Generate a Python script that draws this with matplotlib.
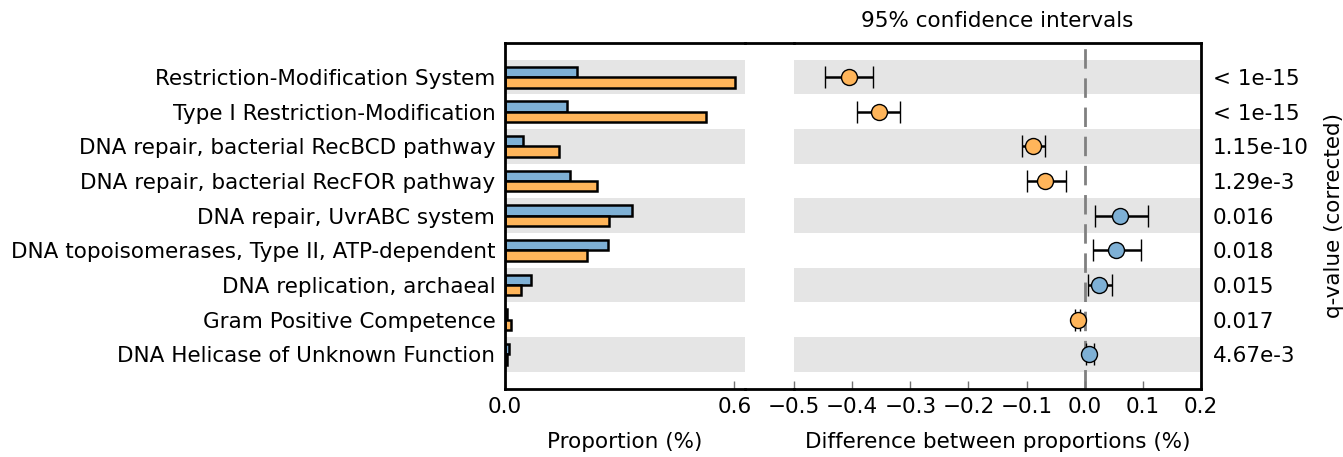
import matplotlib
matplotlib.use("Agg")
import matplotlib.pyplot as plt
from matplotlib.lines import Line2D
import numpy as np

categories = [
    "Restriction-Modification System",
    "Type I Restriction-Modification",
    "DNA repair, bacterial RecBCD pathway",
    "DNA repair, bacterial RecFOR pathway",
    "DNA repair, UvrABC system",
    "DNA topoisomerases, Type II, ATP-dependent",
    "DNA replication, archaeal",
    "Gram Positive Competence",
    "DNA Helicase of Unknown Function",
]
blue_prop = [0.188, 0.163, 0.048, 0.170, 0.332, 0.270, 0.067, 0.004, 0.011]
orange_prop = [0.601, 0.525, 0.140, 0.240, 0.271, 0.215, 0.043, 0.016, 0.004]
diff = [-0.405, -0.354, -0.089, -0.069, 0.061, 0.053, 0.024, -0.012, 0.008]
ci_low = [-0.446, -0.392, -0.108, -0.100, 0.017, 0.015, 0.005, -0.016, 0.002]
ci_high = [-0.364, -0.317, -0.068, -0.033, 0.108, 0.096, 0.047, -0.008, 0.016]
qvalues = ["< 1e-15", "< 1e-15", "1.15e-10", "1.29e-3", "0.016", "0.018", "0.015", "0.017", "4.67e-3"]

BLUE = "#7eb0d5"
ORANGE = "#ffb55a"
STRIPE = "#e5e5e5"
FS = 15.5

W, H = 1343, 457
fig = plt.figure(figsize=(W / 100, H / 100), dpi=100)

bottom = 1 - 389 / H
top = 1 - 42.5 / H
ax1 = fig.add_axes([505 / W, bottom, (745 - 505) / W, top - bottom])
ax2 = fig.add_axes([794 / W, bottom, (1201 - 794) / W, top - bottom])

n = len(categories)
y = np.arange(n)[::-1]  # top row first

for ax in (ax1, ax2):
    for i, yy in enumerate(y):
        if i % 2 == 0:
            ax.axhspan(yy - 0.5, yy + 0.5, color=STRIPE, lw=0, zorder=0)
    ax.set_ylim(-1, n)

# Left: proportions
ax1.barh(y + 0.15, blue_prop, height=0.3, color=BLUE, edgecolor="black", linewidth=1.8, zorder=2)
ax1.barh(y - 0.15, orange_prop, height=0.3, color=ORANGE, edgecolor="black", linewidth=1.8, zorder=2)
ax1.set_xlim(0, 0.628)
ax1.set_xticks([0.0, 0.6])
ax1.set_xticklabels(["0.0", "0.6"])
ax1.set_yticks(y)
ax1.set_yticklabels(categories, fontsize=FS)
ax1.tick_params(axis="y", length=0, pad=7)
ax1.tick_params(axis="x", direction="in", length=6, width=1, color="0.45", labelsize=FS, pad=6)
ax1.spines["right"].set_visible(False)
ax1.set_xlabel("Proportion (%)", fontsize=FS, labelpad=10.5)

# Right: differences
ax2.axvline(0, color="0.5", linestyle=(0, (7, 3.5)), linewidth=2, zorder=1)
for yy, d, lo, hi in zip(y, diff, ci_low, ci_high):
    c = ORANGE if d < 0 else BLUE
    ax2.errorbar(d, yy, xerr=[[d - lo], [hi - d]], fmt="o", color="black", ecolor="black",
                 elinewidth=1.8, capsize=8, capthick=1.8, markersize=11.5,
                 markerfacecolor=c, markeredgecolor="black", markeredgewidth=1, zorder=3)
ax2.set_xlim(-0.5, 0.2)
ax2.set_xticks([-0.5, -0.4, -0.3, -0.2, -0.1, 0.0, 0.1, 0.2])
ax2.set_xticklabels(["\u22120.5", "\u22120.4", "\u22120.3", "\u22120.2", "\u22120.1", "0.0", "0.1", "0.2"])
ax2.tick_params(axis="x", direction="in", length=6, width=1, color="0.45", labelsize=FS, pad=6)
ax2.yaxis.tick_right()
ax2.set_yticks(y)
ax2.set_yticklabels(qvalues, fontsize=FS)
ax2.tick_params(axis="y", length=0, pad=8.5)
ax2.yaxis.set_label_position("right")
ax2.set_ylabel("q-value (corrected)", fontsize=FS, labelpad=11)
ax2.spines["left"].set_visible(False)
ax2.set_xlabel("Difference between proportions (%)", fontsize=FS, labelpad=10.5)
ax2.set_title("95% confidence intervals", fontsize=FS, pad=11)

for ax in (ax1, ax2):
    for s in ax.spines.values():
        s.set_linewidth(2)

# connect top/bottom borders across the gap
for yf in (bottom, top):
    fig.add_artist(Line2D([745 / W, 794 / W], [yf, yf], transform=fig.transFigure,
                          color="black", linewidth=2))

fig.savefig("out.png", dpi=100)
